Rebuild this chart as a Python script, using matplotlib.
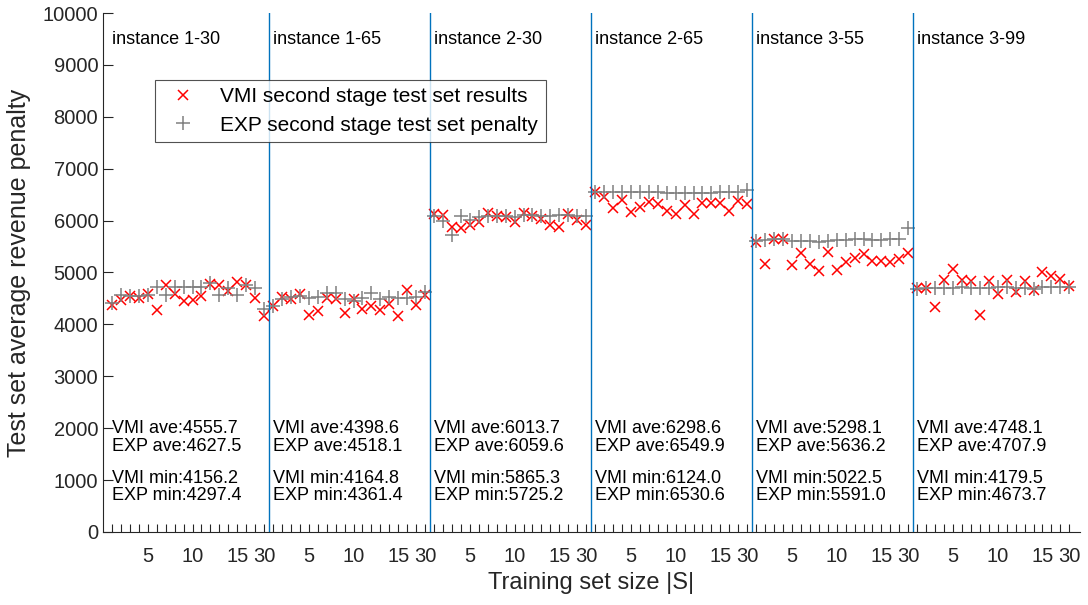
import numpy as np
import matplotlib
matplotlib.use('Agg')
import matplotlib.pyplot as plt

plt.rcParams['font.family'] = ['Liberation Sans', 'DejaVu Sans']

# panel names and the training sizes shown on each panel
instances = ['instance 1-30', 'instance 1-65', 'instance 2-30',
             'instance 2-65', 'instance 3-55', 'instance 3-99']
size_labels = {5: '5', 10: '10', 15: '15', 18: '30'}

# VMI second stage test set results (18 training sizes per instance)
vmi_1 = [4379, 4462, 4538, 4500, 4590, 4280, 4763, 4590, 4442, 4475, 4552, 4776, 4763, 4635, 4814, 4763, 4506, 4156]
vmi_2 = [4346, 4519, 4494, 4590, 4186, 4263, 4506, 4494, 4218, 4494, 4301, 4346, 4282, 4391, 4165, 4667, 4365, 4570]
vmi_3 = [6120, 6100, 5884, 5865, 5916, 5980, 6141, 6089, 6064, 5980, 6150, 6096, 6025, 5916, 5880, 6130, 6012, 5916]
vmi_4 = [6558, 6460, 6240, 6397, 6160, 6256, 6365, 6320, 6180, 6124, 6301, 6135, 6333, 6346, 6333, 6180, 6370, 6320]
vmi_5 = [5596, 5160, 5647, 5647, 5147, 5371, 5160, 5022, 5391, 5051, 5198, 5288, 5352, 5224, 5224, 5198, 5262, 5371]
vmi_6 = [4700, 4700, 4340, 4850, 5070, 4850, 4840, 4180, 4840, 4580, 4850, 4630, 4830, 4660, 5000, 4935, 4870, 4745]

# EXP second stage test set penalty
exp_1 = [4420, 4570, 4538, 4538, 4570, 4730, 4570, 4730, 4730, 4730, 4730, 4792, 4570, 4700, 4570, 4760, 4700, 4297]
exp_2 = [4361, 4480, 4520, 4540, 4500, 4530, 4600, 4600, 4480, 4450, 4500, 4600, 4480, 4530, 4500, 4500, 4520, 4620]
exp_3 = [6090, 6000, 5725, 6080, 6020, 6070, 6090, 6090, 6080, 6070, 6110, 6100, 6090, 6090, 6100, 6110, 6090, 6080]
exp_4 = [6560, 6560, 6555, 6555, 6550, 6550, 6545, 6545, 6540, 6540, 6540, 6535, 6531, 6540, 6545, 6550, 6555, 6580]
exp_5 = [5610, 5620, 5654, 5640, 5610, 5610, 5605, 5591, 5608, 5618, 5628, 5638, 5638, 5628, 5628, 5638, 5638, 5850]
exp_6 = [4690, 4700, 4710, 4700, 4710, 4715, 4705, 4700, 4710, 4720, 4715, 4710, 4700, 4674, 4715, 4720, 4725, 4720]

# summary numbers printed in each panel
vmi_ave = ['4555.7', '4398.6', '6013.7', '6298.6', '5298.1', '4748.1']
exp_ave = ['4627.5', '4518.1', '6059.6', '6549.9', '5636.2', '4707.9']
vmi_min = ['4156.2', '4164.8', '5865.3', '6124.0', '5022.5', '4179.5']
exp_min = ['4297.4', '4361.4', '5725.2', '6530.6', '5591.0', '4673.7']

vmi = np.concatenate([vmi_1, vmi_2, vmi_3, vmi_4, vmi_5, vmi_6])
exp = np.concatenate([exp_1, exp_2, exp_3, exp_4, exp_5, exp_6])
n = len(vmi_1)
x = np.arange(1, len(vmi) + 1)

fig = plt.figure(figsize=(10.88, 6.05), dpi=100)
ax = fig.add_axes([0.0947, 0.1207, 0.898, 0.8578])

tc = '#262626'
ax.plot(x, vmi, 'x', color='red', ms=7.5, mew=1.1, label='VMI second stage test set results')
ax.plot(x, exp, '+', color='#808080', ms=10, mew=1.1, label='EXP second stage test set penalty')

for k in range(len(instances)):
    if k > 0:
        ax.axvline(n * k + 0.5, color='#0072BD', lw=1)
    x0 = n * k + 1
    ax.text(x0, 9480, instances[k], fontsize=13, va='center', color='black')
    ax.text(x0, 2000, 'VMI ave:' + vmi_ave[k], fontsize=13, va='center', color='black')
    ax.text(x0, 1650, 'EXP ave:' + exp_ave[k], fontsize=13, va='center', color='black')
    ax.text(x0, 1040, 'VMI min:' + vmi_min[k], fontsize=13, va='center', color='black')
    ax.text(x0, 710, 'EXP min:' + exp_min[k], fontsize=13, va='center', color='black')

ticks = list(x)
labels = [size_labels.get((t - 1) % n + 1, '') for t in ticks]
ax.set_xticks(ticks)
ax.set_xticklabels(labels)
ax.set_xlim(0, 109.2)
ax.set_ylim(0, 10000)
ax.set_yticks(np.arange(0, 10001, 1000))

ax.tick_params(axis='x', direction='in', length=6, width=0.8, colors=tc, labelsize=14.5, pad=11)
ax.tick_params(axis='y', direction='in', length=7, width=0.8, colors=tc, labelsize=14.5)
for s in ['top', 'right']:
    ax.spines[s].set_visible(False)
for s in ['left', 'bottom']:
    ax.spines[s].set_color(tc)
    ax.spines[s].set_linewidth(0.8)

ax.set_xlabel('Training set size |S|', fontsize=17, color=tc, labelpad=4)
ax.set_ylabel('Test set average revenue penalty', fontsize=18, color=tc, labelpad=8)

leg = ax.legend(loc='upper left', bbox_to_anchor=(0.053, 0.871), fontsize=15,
                frameon=True, fancybox=False, edgecolor=tc, borderpad=0.35,
                borderaxespad=0, handletextpad=0.8, labelspacing=0.45, handlelength=2.0)
leg.get_frame().set_linewidth(0.8)

fig.savefig('out.png', dpi=100)
